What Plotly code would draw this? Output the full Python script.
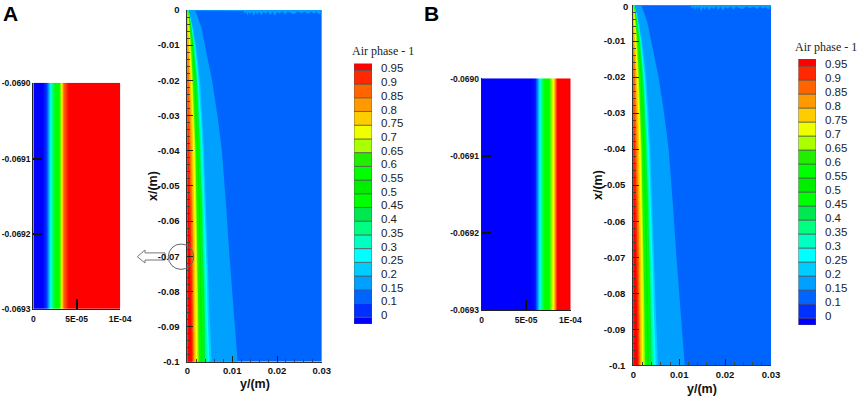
import plotly.graph_objects as go

W, H = 858, 397

# ---- colour legend data ----
legend_labels = ["0", "0.1", "0.15", "0.2", "0.25", "0.3", "0.35", "0.4", "0.45", "0.5",
                 "0.55", "0.6", "0.65", "0.7", "0.75", "0.8", "0.85", "0.9", "0.95"]
band_colors = ["#0000ff", "#0030ff", "#0064ff", "#00a0ff", "#00ccff", "#00ffff", "#00ffc0",
               "#00ff80", "#00e850", "#00ff00", "#00ee00", "#00ff00", "#22ee00", "#aaff00",
               "#eeff00", "#ffcc00", "#ff9900", "#ff6400", "#ff2800", "#ff0000"]

# ---- wide panels: contour position (y, m) for each level at each depth (x, m) ----
depths = [0, -0.002, -0.005, -0.01, -0.02, -0.03, -0.04, -0.055, -0.07, -0.085, -0.1]
contour_015 = [.0017, .0023, .0031, .0039, .0055, .0067, .0077, .0086, .0094, .0103, .0112]
contour_020 = [.0002, .0007, .0012, .0019, .0028, .0033, .0037, .0041, .0045, .0049, .0054]
contour_025 = [.0002, .0006, .0011, .0017, .0025, .0030, .0034, .0038, .0042, .0045, .0049]
contour_030 = [.0002, .0006, .0010, .0016, .0023, .0028, .0032, .0036, .0039, .0042, .0046]
contour_035 = [.0001, .0005, .0009, .0015, .0022, .0026, .0030, .0034, .0037, .0040, .0043]
contour_040 = [.0001, .0005, .0009, .0014, .0021, .0025, .0028, .0032, .0035, .0038, .0040]
contour_045 = [.0001, .0004, .0008, .0013, .0019, .0023, .0027, .0030, .0033, .0035, .0037]
contour_050 = [.0001, .0004, .0008, .0012, .0018, .0021, .0024, .0028, .0030, .0032, .0034]
contour_055 = [.0001, .0004, .0007, .0011, .0016, .0019, .0022, .0025, .0028, .0029, .0031]
contour_060 = [.0001, .0003, .0006, .0010, .0014, .0018, .0020, .0023, .0025, .0027, .0028]
contour_065 = [.0001, .0003, .0005, .0008, .0012, .0015, .0018, .0020, .0022, .0024, .0025]
contour_070 = [.0000, .0002, .0004, .0006, .0010, .0013, .0016, .0018, .0020, .0021, .0022]
contour_075 = [.0000, .0001, .0002, .0004, .0008, .0011, .0013, .0015, .0017, .0018, .0019]
contour_080 = [.0000, .0000, .0001, .0002, .0005, .0008, .0010, .0012, .0014, .0015, .0016]
contour_085 = [.0000, .0000, .0000, .0001, .0003, .0005, .0007, .0010, .0012, .0013, .0014]
contour_090 = [.0000, .0000, .0000, .0000, .0001, .0002, .0004, .0007, .0009, .0011, .0012]
contour_095 = [.0000, .0000, .0000, .0000, .0000, .0000, .0001, .0003, .0006, .0008, .0010]
contours = [(contour_015, 3), (contour_020, 4), (contour_025, 5), (contour_030, 6), (contour_035, 7),
            (contour_040, 8), (contour_045, 9), (contour_050, 10), (contour_055, 11), (contour_060, 12),
            (contour_065, 13), (contour_070, 14), (contour_075, 15), (contour_080, 16), (contour_085, 17),
            (contour_090, 18), (contour_095, 19)]

# jagged light-blue strip along the top wall
noise_y = [.0015, .0125, .0128, .0131, .0134, .0137, .0140, .0144, .0148, .0152, .0156, .0160, .0165, .0170,
           .0175, .0180, .0185, .0190, .0195, .0200, .0206, .0212, .0218, .0224, .0230, .0238, .0246,
           .0254, .0262, .0270, .0276, .0282, .0288, .0294, .0300]
noise_d = [-.0002, -.0003, -.0011, -.0004, -.0016, -.0005, -.0012, -.0004, -.0018, -.0006, -.0013, -.0005,
           -.0015, -.0006, -.0011, -.0004, -.0014, -.0005, -.0016, -.0006, -.0010, -.0004, -.0013, -.0005,
           -.0008, -.0012, -.0004, -.0009, -.0005, -.0011, -.0004, -.0010, -.0006, -.0012, -.0005]

# ---- narrow panels: air-phase profile across the wall ----
profile_x = [0, 5e-6, 1e-5, 1.5e-5, 2e-5, 2.5e-5, 3e-5, 3.5e-5, 4e-5, 4.5e-5, 5e-5, 5.5e-5, 6e-5,
             6.5e-5, 7e-5, 7.5e-5, 8e-5, 8.5e-5, 9e-5, 9.5e-5, 1e-4]
profile_a = [0, 0, 0, 0.06, 0.27, 0.48, 0.62, 0.92, 1, 1, 1, 1, 1, 1, 1, 1, 1, 1, 1, 1, 1]
profile_b = [0, 0, 0, 0, 0, 0, 0, 0, 0, 0, 0, 0, 0.02, 0.27, 0.45, 0.6, 0.76, 1, 1, 1, 1]
profile_depth = [-0.0693, -0.0690]
jet = [[0, "#0000ff"], [0.25, "#00ffff"], [0.45, "#00ff00"], [0.6, "#00ff00"],
       [0.76, "#ffff00"], [0.9, "#ff8000"], [1, "#ff0000"]]

wide_ticks = [0, -0.01, -0.02, -0.03, -0.04, -0.05, -0.06, -0.07, -0.08, -0.09, -0.1]
wide_text = ["0", "-0.01", "-0.02", "-0.03", "-0.04", "-0.05", "-0.06", "-0.07", "-0.08", "-0.09", "-0.1"]
wide_xticks = [0, 0.01, 0.02, 0.03]
wide_xtext = ["0", "0.01", "0.02", "0.03"]
narrow_yticks = [-0.069, -0.0691, -0.0692, -0.0693]
narrow_ytext = ["-0.0690", "-0.0691", "-0.0692", "-0.0693"]
narrow_xticks = [0, 5e-5, 1e-4]
narrow_xtext = ["0", "5E-05", "1E-04"]


def px(x):
    return x / W


def py(y):
    return 1 - y / H


SANS = "Liberation Sans"
widefont = dict(family=SANS, size=9.5, color="#111111", weight="bold")
narrowfont = dict(family=SANS, size=8.5, color="#111111", weight="bold")
fig = go.Figure()
layout = dict(template="none", width=W, height=H, margin=dict(l=0, r=0, t=0, b=0, pad=0), paper_bgcolor="white",
              plot_bgcolor="rgba(0,0,0,0)", showlegend=False, autosize=False)
axis_index = [0]


def add_axes(x0, x1, y0, y1):
    axis_index[0] += 1
    i = axis_index[0]
    ax, ay = f"x{i}", f"y{i}"
    layout[f"xaxis{i}"] = dict(domain=[px(x0), px(x1)], anchor=ay, automargin=False)
    layout[f"yaxis{i}"] = dict(domain=[py(y1), py(y0)], anchor=ax, automargin=False)
    return i, ax, ay


def wide_panel(x0, x1, y0, y1):
    i, ax, ay = add_axes(x0, x1, y0, y1)
    fig.add_trace(go.Scatter(x=[0, 0.03, 0.03, 0, 0], y=[0, 0, -0.1, -0.1, 0], fill="toself",
                             mode="none", fillcolor=band_colors[2], xaxis=ax, yaxis=ay, hoverinfo="skip"))
    fig.add_trace(go.Scatter(x=noise_y + [noise_y[-1], noise_y[0]], y=noise_d + [0, 0], fill="toself",
                             mode="none", fillcolor=band_colors[3], xaxis=ax, yaxis=ay, hoverinfo="skip"))
    for curve, c in contours:
        fig.add_trace(go.Scatter(x=[0] + curve + [0, 0], y=[depths[0]] + depths + [depths[-1], depths[0]],
                                 fill="toself", mode="none", fillcolor=band_colors[c],
                                 xaxis=ax, yaxis=ay, hoverinfo="skip"))
    layout[f"xaxis{i}"].update(range=[0, 0.03], tickvals=wide_xticks, ticktext=wide_xtext, ticks="inside",
                               ticklen=6, tickwidth=1, tickcolor="#222", showline=True, linecolor="#333",
                               linewidth=1, showgrid=False, zeroline=False, tickfont=widefont,
                               minor=dict(dtick=0.002, ticks="inside", ticklen=3, tickwidth=1, tickcolor="#444"))
    layout[f"yaxis{i}"].update(range=[-0.1, 0], tickvals=wide_ticks, ticktext=wide_text, ticks="inside",
                               ticklen=6, tickwidth=1, tickcolor="#222", showline=True, linecolor="#333",
                               linewidth=1, showgrid=False, zeroline=False, tickfont=widefont,
                               ticklabelstandoff=5,
                               minor=dict(dtick=0.002, ticks="inside", ticklen=3, tickwidth=1, tickcolor="#444"))


def narrow_panel(x0, x1, y0, y1, profile):
    i, ax, ay = add_axes(x0, x1, y0, y1)
    fig.add_trace(go.Heatmap(x=profile_x, y=profile_depth, z=[profile, profile], zmin=0, zmax=1,
                             colorscale=jet, zsmooth="best", showscale=False, xaxis=ax, yaxis=ay,
                             hoverinfo="skip"))
    layout[f"xaxis{i}"].update(range=[0, 1.003e-4], tickvals=narrow_xticks, ticktext=narrow_xtext, ticks="inside",
                               ticklen=10, tickwidth=1.5, tickcolor="#111", showline=True, linecolor="#222",
                               linewidth=1, showgrid=False, zeroline=False, tickfont=narrowfont,
                               ticklabelstandoff=2)
    layout[f"yaxis{i}"].update(range=[-0.0693, -0.068999], tickvals=narrow_yticks, ticktext=narrow_ytext,
                               ticks="inside", ticklen=9, tickwidth=1.5, tickcolor="#111", showline=True,
                               linecolor="#222", linewidth=1, showgrid=False, zeroline=False, tickfont=narrowfont)


def legend_bar(x0, x1, y0, y1):
    i, ax, ay = add_axes(x0, x1, y0, y1)
    edges = [-0.5] + list(range(len(legend_labels))) + [len(legend_labels) - 0.5]
    heights = [b - a for a, b in zip(edges[:-1], edges[1:])]
    fig.add_trace(go.Bar(x=[0.5] * len(heights), y=heights, base=edges[:-1], width=1, orientation="v",
                         marker=dict(color=band_colors, line=dict(color="#555", width=0.7)),
                         xaxis=ax, yaxis=ay, hoverinfo="skip"))
    layout[f"xaxis{i}"].update(range=[0, 1], visible=False)
    layout[f"yaxis{i}"].update(range=[edges[0], edges[-1]], side="right", tickvals=list(range(len(legend_labels))),
                               ticktext=legend_labels, ticks="", showgrid=False, zeroline=False, showline=False,
                               ticklabelstandoff=8, ticklabelshift=-2,
                               tickfont=dict(family=SANS, size=11.5, color="#222222"))


narrow_panel(33.3, 120.3, 82.7, 309, profile_a)
wide_panel(187.4, 321.8, 10, 361.7)
legend_bar(354, 372, 63.5, 324)
narrow_panel(481.7, 570.7, 78.3, 310, profile_b)
wide_panel(633.3, 771, 5, 365.3)
legend_bar(798.3, 816, 59, 325)


def text(x, y, s, family=SANS, size=12, bold=False, angle=0, color="#111"):
    fig.add_annotation(x=px(x), y=py(y), xref="paper", yref="paper", text=f"<b>{s}</b>" if bold else s,
                       showarrow=False, textangle=angle, xanchor="center", yanchor="middle",
                       font=dict(family=family, size=size, color=color))


text(10, 13, "A", size=21, bold=True, color="#000")
text(431, 13, "B", size=21, bold=True, color="#000")
text(254.7, 384, "y/(m)", size=12.5, bold=True)
text(702, 389, "y/(m)", size=12.5, bold=True)
text(153, 186, "x/(m)", size=12.5, bold=True, angle=-90)
text(598, 185, "x/(m)", size=12.5, bold=True, angle=-90)
text(383, 51, "Air phase - 1", family="Liberation Serif", size=12, color="#222")
text(826, 47, "Air phase - 1", family="Liberation Serif", size=12, color="#222")
# the axis drops the "0" label of panel B because it sits so close to the page top
text(625, 6.5, "0", size=9.5, bold=True)

# magnifier circle and hollow arrow
cx, cy, r = 181, 256.7, 12.7
arrow_px = [(137.3, 256.7), (145, 250), (145, 252.9), (165, 252.9), (165, 260), (145, 260), (145, 263)]
arrow_path = "M " + " L ".join(f"{px(a)},{py(b)}" for a, b in arrow_px) + " Z"
fig.update_layout(
    **layout,
    shapes=[
        dict(type="path", xref="paper", yref="paper", path=arrow_path, fillcolor="white", layer="below",
             line=dict(color="#777", width=1)),
        dict(type="circle", xref="paper", yref="paper", x0=px(cx - r), x1=px(cx + r), y0=py(cy + r), y1=py(cy - r),
             line=dict(color="#666", width=1)),
    ],
)

fig.write_html("out.html", config=dict(displayModeBar=False),
               post_script="document.body.style.margin='0';")
